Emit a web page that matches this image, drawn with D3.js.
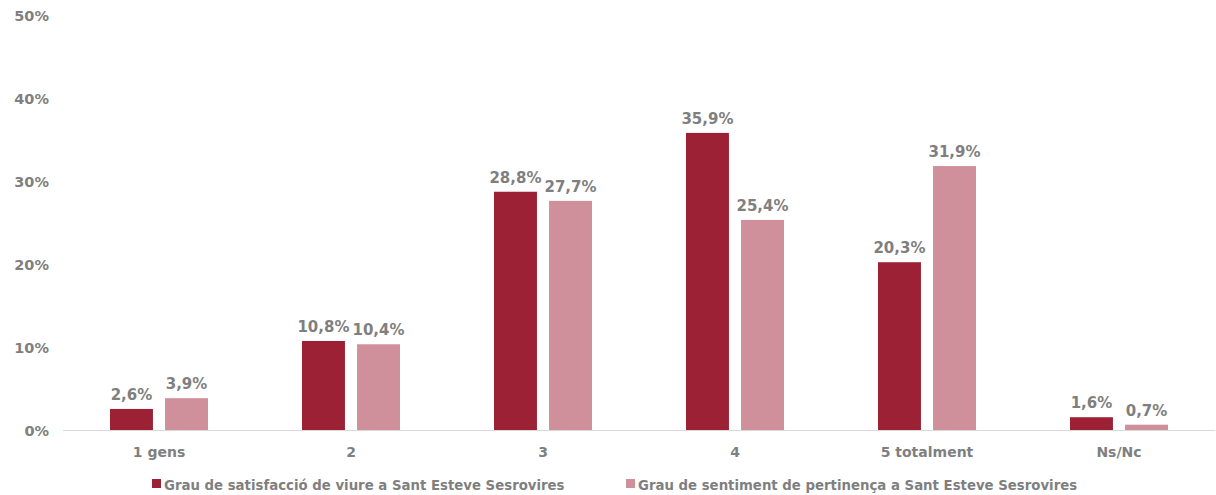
<!DOCTYPE html>
<html>
<head>
<meta charset="utf-8">
<script src="https://cdn.jsdelivr.net/npm/d3@7"></script>
<style>
  body { margin: 0; background: #fff; }
  svg text { font-family: "DejaVu Sans", sans-serif; font-weight: bold; fill: #7f7f7f; }
</style>
</head>
<body>
<div id="chart"></div>
<script>
const width = 1216;
const height = 495;

// Data
const categories = ["1 gens", "2", "3", "4", "5 totalment", "Ns/Nc"];
const satisfaccio = [2.6, 10.8, 28.8, 35.9, 20.3, 1.6];
const pertinenca = [3.9, 10.4, 27.7, 25.4, 31.9, 0.7];
const seriesNames = [
  "Grau de satisfacció de viure a Sant Esteve Sesrovires",
  "Grau de sentiment de pertinença a Sant Esteve Sesrovires"
];
const yTicks = [0, 10, 20, 30, 40, 50];

const colors = ["#9c2135", "#cf8f9b"];

const svg = d3.select("#chart").append("svg")
  .attr("width", width)
  .attr("height", height);

const x = d3.scaleBand()
  .domain(categories)
  .range([63, 1215]);

const xSeries = d3.scaleBand()
  .domain([0, 1])
  .range([x.bandwidth() / 2 - 49, x.bandwidth() / 2 + 49])
  .paddingInner(0.22);

const y = d3.scaleLinear()
  .domain([0, 50])
  .range([430.5, 16]);

// y tick labels
svg.append("g")
  .selectAll("text")
  .data(yTicks)
  .join("text")
  .attr("x", 49)
  .attr("y", d => y(d))
  .attr("dy", "0.35em")
  .attr("text-anchor", "end")
  .style("font-size", "14.5px")
  .text(d => d + "%");

const series = [satisfaccio, pertinenca];

const groups = svg.append("g")
  .selectAll("g")
  .data(categories)
  .join("g")
  .attr("transform", d => `translate(${x(d)},0)`);

groups.selectAll("rect")
  .data((d, i) => series.map((s, k) => ({ k, v: s[i] })))
  .join("rect")
  .attr("x", d => xSeries(d.k))
  .attr("width", xSeries.bandwidth())
  .attr("y", d => y(d.v))
  .attr("height", d => y(0) - y(d.v))
  .attr("fill", d => colors[d.k]);

groups.selectAll("text.val")
  .data((d, i) => series.map((s, k) => ({ k, v: s[i] })))
  .join("text")
  .attr("class", "val")
  .attr("x", d => xSeries(d.k) + xSeries.bandwidth() / 2)
  .attr("y", d => y(d.v) - 9)
  .attr("text-anchor", "middle")
  .style("font-size", "15px")
  .text(d => d.v.toFixed(1).replace(".", ",") + "%");

// baseline
svg.append("line")
  .attr("x1", 63).attr("x2", 1215)
  .attr("y1", y(0)).attr("y2", y(0))
  .attr("stroke", "#d9d9d9")
  .attr("stroke-width", 1);

// category labels
svg.append("g")
  .selectAll("text")
  .data(categories)
  .join("text")
  .attr("x", d => x(d) + x.bandwidth() / 2)
  .attr("y", 457)
  .attr("text-anchor", "middle")
  .style("font-size", "14px")
  .text(d => d);

// legend
const legendX = [152, 626];
const legend = svg.append("g")
  .selectAll("g")
  .data(seriesNames)
  .join("g")
  .attr("transform", (d, i) => `translate(${legendX[i]},485)`);

legend.append("rect")
  .attr("x", 0).attr("y", -6)
  .attr("width", 9).attr("height", 9)
  .attr("fill", (d, i) => colors[i]);

legend.append("text")
  .attr("x", 12)
  .attr("y", 0)
  .attr("dy", "0.35em")
  .style("font-size", "13.3px")
  .text(d => d);
</script>
</body>
</html>
